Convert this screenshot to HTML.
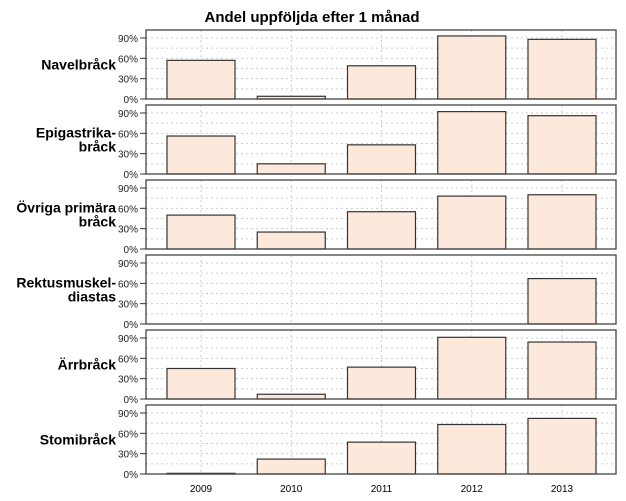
<!DOCTYPE html>
<html><head><meta charset="utf-8"><style>
body{margin:0;background:#fff;width:626px;height:501px;overflow:hidden}
svg{display:block;font-family:"Liberation Sans",Arial,sans-serif}
</style></head><body>
<svg id="chart" width="626" height="501">
<text x="312" y="22" text-anchor="middle" font-size="15" font-weight="bold">Andel uppföljda efter 1 månad</text>
</svg>
<script>
const categories=["2009","2010","2011","2012","2013"];
const panelNames=[["Navelbråck"],["Epigastrika-","bråck"],["Övriga primära","bråck"],["Rektusmuskel-","diastas"],["Ärrbråck"],["Stomibråck"]];
const navelValues=[57,4,49,93,88];
const epigastrikaValues=[56,15,43,92,86];
const ovrigaValues=[50,25,55,78,80];
const rektusValues=[null,null,null,null,67];
const arrValues=[45,7,47,91,84];
const stomiValues=[1,22,47,73,82];
const tickValues=[0,30,60,90];
const tickLabels=["0%","30%","60%","90%"];
const series=[navelValues,epigastrikaValues,ovrigaValues,rektusValues,arrValues,stomiValues];
const NS="http://www.w3.org/2000/svg";
const svg=document.getElementById('chart');
const L=146,R=616,PH=69,PITCH=75,TOP0=30;
function xc(i){return 201+i*90.25;}
const bw=68;
function mk(t,a,p){const e=document.createElementNS(NS,t);for(const k in a)e.setAttribute(k,a[k]);(p||svg).appendChild(e);return e;}
series.forEach((vals,p)=>{
  const top=TOP0+p*PITCH,bot=top+PH;
  const y=v=>bot-v*0.678;
  const g=mk('g',{});
  
  
  const bg=mk('rect',{x:L,y:top,width:R-L,height:PH,fill:'#fff'},g);
  for(let v=15;v<=100;v+=15){const l=mk('line',{x1:L,x2:R,y1:y(v),y2:y(v),stroke:'#ccc','stroke-dasharray':'2,3','stroke-width':1},g);}
  categories.forEach((c,i)=>{const l=mk('line',{x1:xc(i),x2:xc(i),y1:top,y2:bot,stroke:'#ccc','stroke-dasharray':'2,3'},g);});
  vals.forEach((v,i)=>{if(v==null)return;const r=mk('rect',{x:xc(i)-bw/2,y:y(v),width:bw,height:v*0.678,fill:'#fde9db',stroke:'#333','stroke-width':1.2},g);});
  const fr=mk('rect',{x:L,y:top,width:R-L,height:PH,fill:'none',stroke:'#444','stroke-width':1.3},g);
  
  tickValues.forEach((t,k)=>{mk('line',{x1:140,x2:L,y1:y(t),y2:y(t),stroke:'#333'},g);const tx=mk('text',{x:138,y:y(t)+4,'text-anchor':'end','font-size':10,fill:'#222'},g);tx.textContent=tickLabels[k];});
  const lines=panelNames[p];const cy=(top+bot)/2;
  lines.forEach((s,k)=>{const tx=mk('text',{x:lines.length>1&&k==1?116:116,y:cy+5+(k-(lines.length-1)/2)*14,'text-anchor':'end','font-size':14,'font-weight':'bold'},g);tx.textContent=s;});
});
categories.forEach((c,i)=>{const t=mk('text',{x:xc(i),y:492,'text-anchor':'middle','font-size':10});t.textContent=c;});
</script>
</body></html>
